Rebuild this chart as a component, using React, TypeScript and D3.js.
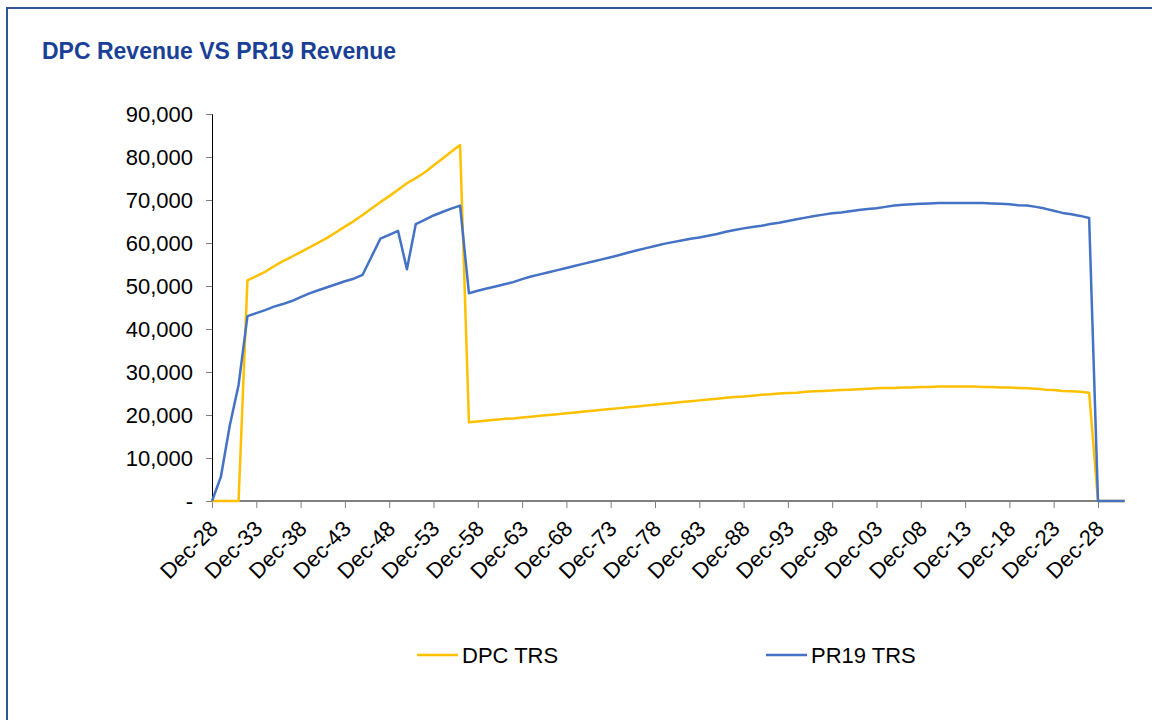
import React, { useEffect, useRef } from 'react';
import * as d3 from 'd3';

// one point per year, Dec-28 (index 0) onward
const startYear = 1928;
const tickYears = [1928, 1933, 1938, 1943, 1948, 1953, 1958, 1963, 1968, 1973, 1978, 1983, 1988, 1993, 1998, 2003, 2008, 2013, 2018, 2023, 2028];
const yTicks = [0, 10000, 20000, 30000, 40000, 50000, 60000, 70000, 80000, 90000];

// values in thousands
const dpcTrs = [
  0, 0, 0, 0, 51.3, 52.3, 53.3, 54.6, 55.8, 56.8,
  57.9, 59.0, 60.1, 61.2, 62.5, 63.8, 65.1, 66.5, 68.0, 69.5,
  70.9, 72.4, 73.9, 75.1, 76.4, 78.0, 79.6, 81.2, 82.8, 18.3,
  18.5, 18.7, 18.9, 19.1, 19.2, 19.4, 19.6, 19.8, 20.0, 20.2,
  20.4, 20.6, 20.8, 21.0, 21.2, 21.4, 21.6, 21.8, 22.0, 22.2,
  22.4, 22.6, 22.8, 23.0, 23.2, 23.4, 23.6, 23.8, 24.0, 24.2,
  24.3, 24.5, 24.7, 24.8, 25.0, 25.1, 25.2, 25.4, 25.5, 25.6,
  25.7, 25.8, 25.9, 26.0, 26.1, 26.2, 26.3, 26.3, 26.4, 26.4,
  26.5, 26.5, 26.6, 26.6, 26.6, 26.6, 26.6, 26.5, 26.5, 26.4,
  26.4, 26.3, 26.2, 26.1, 25.9, 25.8, 25.6, 25.5, 25.4, 25.2,
  0, 0, 0, 0
];

const pr19Trs = [
  0, 5.6, 17.5, 27.0, 43.0, 43.7, 44.4, 45.2, 45.8, 46.5,
  47.4, 48.3, 49.0, 49.7, 50.4, 51.1, 51.7, 52.6, 56.8, 61.0,
  61.9, 62.8, 53.9, 64.4, 65.4, 66.4, 67.2, 68.0, 68.7, 48.3,
  48.9, 49.4, 49.9, 50.4, 50.9, 51.6, 52.2, 52.7, 53.2, 53.7,
  54.2, 54.7, 55.2, 55.7, 56.2, 56.7, 57.2, 57.8, 58.3, 58.8,
  59.3, 59.8, 60.2, 60.6, 61.0, 61.3, 61.7, 62.1, 62.6, 63.0,
  63.4, 63.7, 64.0, 64.4, 64.7, 65.1, 65.5, 65.9, 66.3, 66.6,
  66.9, 67.1, 67.4, 67.7, 67.9, 68.1, 68.4, 68.7, 68.9, 69.0,
  69.1, 69.2, 69.3, 69.3, 69.3, 69.3, 69.3, 69.3, 69.2, 69.1,
  69.0, 68.8, 68.7, 68.4, 68.0, 67.5, 67.0, 66.7, 66.3, 65.8,
  0, 0, 0, 0
];

const series = [
  { name: 'DPC TRS', values: dpcTrs, color: '#FFC000' },
  { name: 'PR19 TRS', values: pr19Trs, color: '#4472C4' }
];

const FONT = '"Liberation Sans", Arial, sans-serif';

const App = () => {
  const svgRef = useRef<SVGSVGElement | null>(null);

  useEffect(() => {
    const svg = d3.select(svgRef.current);
    svg.selectAll('*').remove();

    const x = d3.scaleLinear().domain([startYear, startYear + 100]).range([212, 1098]);
    const y = d3.scaleLinear().domain([0, 90000]).range([501, 114]);

    // chart frame
    svg.append('rect')
      .attr('x', 7).attr('y', 8)
      .attr('width', 1160).attr('height', 730)
      .attr('fill', '#fff')
      .attr('stroke', '#2f5597')
      .attr('stroke-width', 2);

    svg.append('text')
      .attr('x', 42).attr('y', 59)
      .attr('font-family', FONT)
      .attr('font-size', 23)
      .attr('font-weight', 'bold')
      .attr('fill', '#1a3f96')
      .text('DPC Revenue VS PR19 Revenue');

    // y axis
    const yAxis = svg.append('g')
      .attr('transform', 'translate(212,0)')
      .call(d3.axisLeft(y).tickValues(yTicks).tickSize(6).tickPadding(13)
        .tickFormat(d => (+d === 0 ? '-' : d3.format(',')(+d))));
    yAxis.select('.domain').attr('stroke', '#000');
    yAxis.selectAll('.tick line').attr('stroke', '#7f7f7f');
    yAxis.selectAll('text')
      .attr('font-family', FONT)
      .attr('font-size', 22)
      .attr('fill', '#000');

    // x axis
    const xAxis = svg.append('g')
      .attr('transform', 'translate(0,501)')
      .call(d3.axisBottom(x).tickValues(tickYears).tickSize(7).tickSizeOuter(0)
        .tickFormat(d => `Dec-${String(+d % 100).padStart(2, '0')}`));
    xAxis.select('.domain').attr('stroke', '#000').attr('d', `M212,0H1125`);
    xAxis.selectAll('.tick line').attr('stroke', '#7f7f7f');
    xAxis.selectAll('text')
      .attr('font-family', FONT)
      .attr('font-size', 22)
      .attr('fill', '#000')
      .attr('text-anchor', 'end')
      .attr('dy', null)
      .attr('y', null)
      .attr('transform', 'translate(7,29) rotate(-45)');

    // series lines
    const line = d3.line<number>()
      .x((_, i) => x(startYear + i))
      .y(v => y(v * 1000));

    series.forEach(s => {
      svg.append('path')
        .datum(s.values)
        .attr('d', line)
        .attr('fill', 'none')
        .attr('stroke', s.color)
        .attr('stroke-width', 2.5)
        .attr('stroke-linejoin', 'round');
    });

    // legend
    const legendX = [417, 766];
    series.forEach((s, i) => {
      const g = svg.append('g').attr('transform', `translate(${legendX[i]},655)`);
      g.append('line')
        .attr('x1', 0).attr('x2', 41)
        .attr('stroke', s.color)
        .attr('stroke-width', 2.5);
      g.append('text')
        .attr('x', 45).attr('y', 8)
        .attr('font-family', FONT)
        .attr('font-size', 22)
        .attr('fill', '#000')
        .text(s.name);
    });
  }, []);

  return (
    <svg
      ref={svgRef}
      width={1152}
      height={720}
      style={{ position: 'absolute', left: 0, top: 0, background: '#fff' }}
    />
  );
};

export default App;
